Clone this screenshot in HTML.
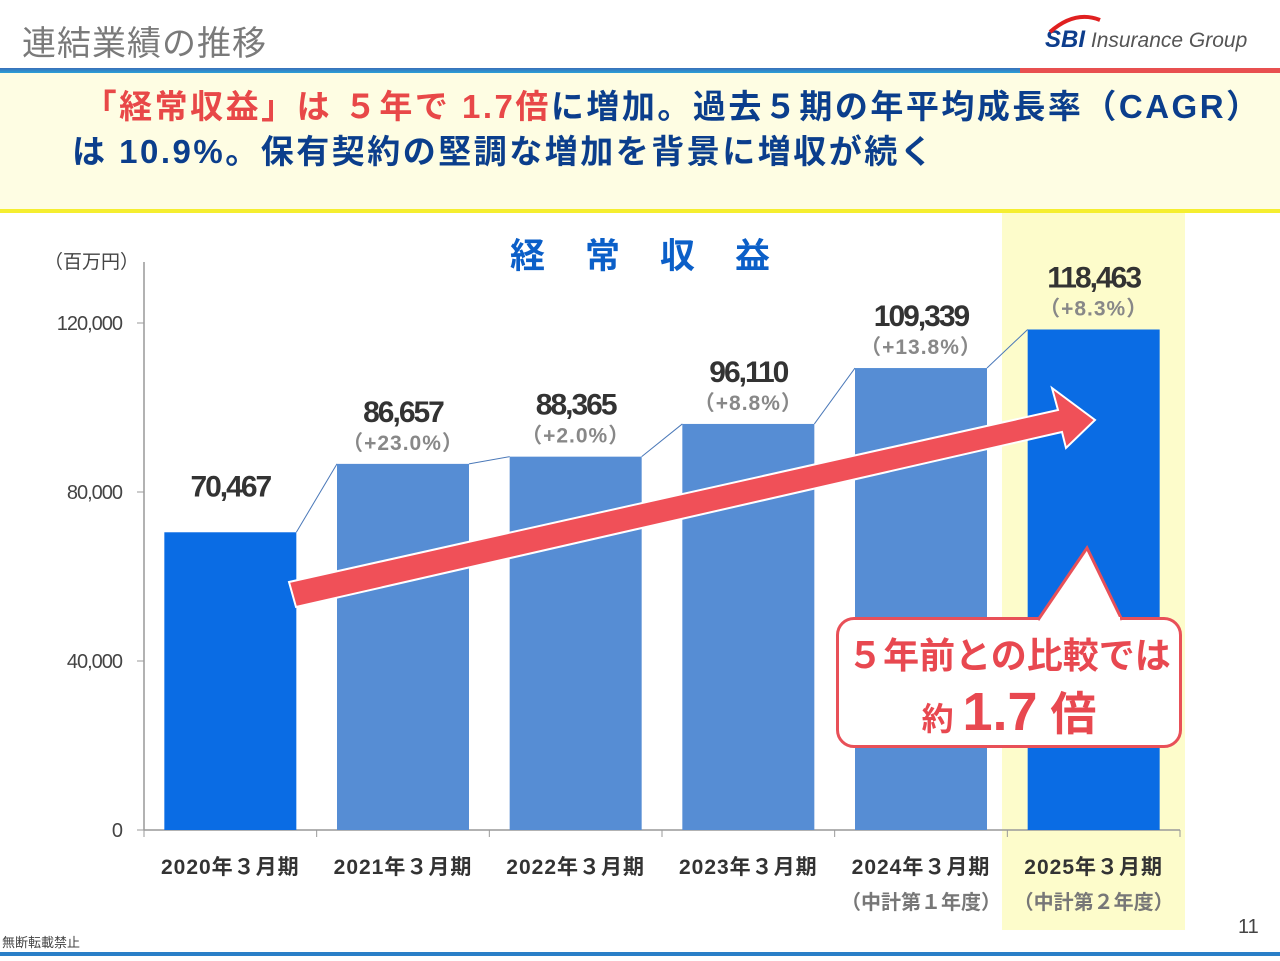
<!DOCTYPE html>
<html><head><meta charset="utf-8"><style>
body{margin:0;width:1280px;height:961px;overflow:hidden;background:#fff;font-family:"Liberation Sans","Noto Sans CJK JP",sans-serif;position:relative}
.a{position:absolute}
</style></head><body>
<div class="a" style="left:22px;top:16px;font-size:34px;color:#7a7a7a;letter-spacing:1px">連結業績の推移</div>
<div class="a" style="left:1045px;top:26px;font-size:21px;color:#555"><b style="color:#0d3d8c;font-style:italic;font-size:24px">SBI</b> <i>Insurance Group</i></div>
<svg class="a" style="left:1045px;top:12px" width="60" height="22"><path d="M5 20 Q30 -2 55 8" stroke="#e02020" stroke-width="4" fill="none"/></svg>
<div class="a" style="left:0;top:68px;width:1020px;height:5px;background:linear-gradient(#3a6fb8,#2aa0d8)"></div>
<div class="a" style="left:1020px;top:68px;width:260px;height:5px;background:#e85050"></div>
<div class="a" style="left:0;top:73px;width:1280px;height:136px;background:#fefde3;border-bottom:4px solid #f5ee30"></div>
<div class="a" style="left:72px;top:84px;width:1210px;font-size:33px;font-weight:bold;color:#0b3e8c;line-height:45px;white-space:nowrap;letter-spacing:2.5px"><span style="color:#e84848">&nbsp;「経常収益」は ５年で 1.7倍</span>に増加。過去５期の年平均成長率（CAGR）<br>は 10.9%。保有契約の堅調な増加を背景に増収が続く</div>
<div class="a" style="left:1002px;top:213px;width:183px;height:717px;background:#fdfccb"></div>
<div class="a" style="left:490px;top:228px;width:330px;font-size:35px;font-weight:bold;color:#0b5fc8;letter-spacing:40px;padding-left:20px">経常収益</div>
<div class="a" style="left:44px;top:247px;font-size:19px;color:#444">（百万円）</div>
<svg id="chart" class="a" style="left:0;top:0" width="1280" height="961"></svg>
<div class="a" style="left:836px;top:617px;width:340px;height:125px;border:3px solid #e85058;border-radius:18px;background:#fff"></div>
<svg class="a" style="left:1030px;top:545px" width="120" height="80"><path d="M8 75 L57 3 L92 75" fill="#fff" stroke="#e85058" stroke-width="3"/><rect x="12" y="72" width="78" height="10" fill="#fff"/></svg>
<div class="a" style="left:836px;top:628px;width:346px;text-align:center;color:#e84850;font-weight:bold;font-size:36px;line-height:56px;white-space:nowrap">５年前との比較では<br><span style="font-size:32px">約 </span><span style="font-size:54px">1.7</span><span style="font-size:46px"> 倍</span></div>
<div class="a" style="left:2px;top:932px;font-size:13px;color:#444">無断転載禁止</div>
<div class="a" style="left:1238px;top:916px;font-size:20px;color:#444">11</div>
<div class="a" style="left:0;top:952px;width:1280px;height:4px;background:#2a7fc8"></div>
<script>
const categories=["2020年３月期","2021年３月期","2022年３月期","2023年３月期","2024年３月期","2025年３月期"];
const subLabels=["","","","","（中計第１年度）","（中計第２年度）"];
const values=[70467,86657,88365,96110,109339,118463];
const growth=["","（+23.0%）","（+2.0%）","（+8.8%）","（+13.8%）","（+8.3%）"];
const yTicks=[0,40000,80000,120000];
const ns="http://www.w3.org/2000/svg",svg=document.getElementById('chart');
const x0=144,x1=1180,yBase=830,pxPer=507/120000;
const step=(x1-x0)/categories.length,bw=132;
const y=v=>yBase-v*pxPer, cx=i=>x0+step*(i+0.5);
function mk(t,a,txt){const e=document.createElementNS(ns,t);for(const k in a)e.setAttribute(k,a[k]);if(txt!==undefined)e.textContent=txt;svg.appendChild(e);return e;}
let e=mk('line',{x1:x0,y1:262,x2:x0,y2:yBase,stroke:'#999','stroke-width':1.5});

e=mk('line',{x1:x0,y1:yBase,x2:x1,y2:yBase,stroke:'#999','stroke-width':1.5});

yTicks.forEach(t=>{
 let l=mk('line',{x1:x0-7,y1:y(t),x2:x0,y2:y(t),stroke:'#999'});
 
 let tx=mk('text',{x:122,y:y(t)+7,'text-anchor':'end','font-size':20,fill:'#444','letter-spacing':'-1'},t.toLocaleString('en-US'));
 
});
for(let i=0;i<=categories.length;i++){let l=mk('line',{x1:x0+step*i,y1:yBase,x2:x0+step*i,y2:yBase+7,stroke:'#999'});
 }
values.forEach((v,i)=>{
 const left=cx(i)-bw/2;
 if(i>0){let c=mk('line',{x1:cx(i-1)+bw/2,y1:y(values[i-1]),x2:left,y2:y(v),stroke:'#4a78b8','stroke-width':1});
  }
 const col=(i==0||i==5)?'#0a6ce4':'#568dd4';
 let r=mk('rect',{x:left,y:y(v),width:bw,height:yBase-y(v),fill:col});
 
 const top=y(v);
 let vt=mk('text',{x:cx(i),y:top-(growth[i]?42:36),'text-anchor':'middle','font-size':30,'font-weight':'bold',fill:'#333','letter-spacing':'-2'},v.toLocaleString('en-US'));
 
 if(growth[i]){let g=mk('text',{x:cx(i),y:top-14,'text-anchor':'middle','font-size':21,'font-weight':'bold',fill:'#888','letter-spacing':'1'},growth[i]);
  }
 let ct=mk('text',{x:cx(i),y:874,'text-anchor':'middle','font-size':21,'font-weight':'bold',fill:'#333','letter-spacing':'1'},categories[i]);
 
 if(subLabels[i]){let s=mk('text',{x:cx(i),y:909,'text-anchor':'middle','font-size':20,'font-weight':'bold',fill:'#777'},subLabels[i]);
  }
});
let ar=mk('polygon',{points:'289,582 1058,410 1052,388 1095,420 1066,448 1062,432 296,607',fill:'#f05058',stroke:'#fff','stroke-width':2});

</script>
</body></html>
